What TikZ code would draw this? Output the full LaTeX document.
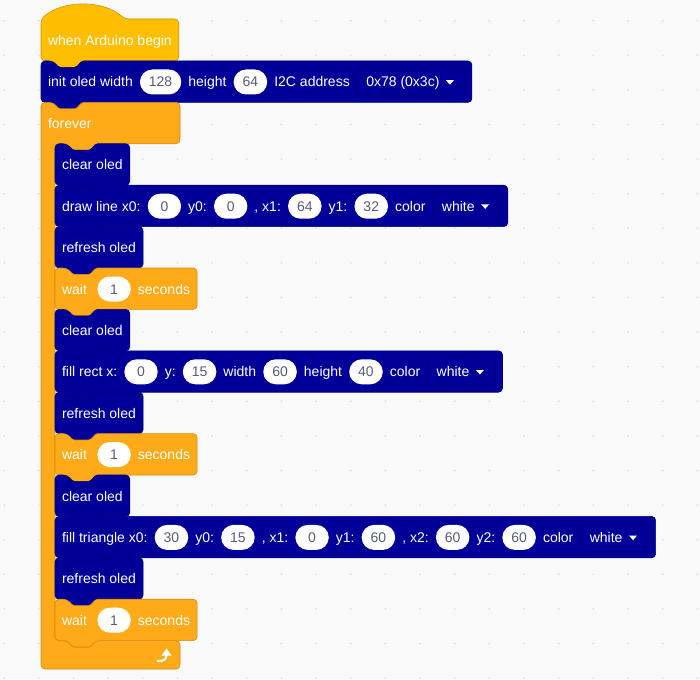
\documentclass[tikz,border=0pt]{standalone}
\usepackage{fontspec}
\setmainfont{Liberation Sans}
\usetikzlibrary{positioning,calc,backgrounds}

\definecolor{bgc}{HTML}{F9F9F9}
\definecolor{dotc}{HTML}{DADADA}
\definecolor{oledc}{HTML}{000099}
\definecolor{oledline}{HTML}{00007A}
\definecolor{ctrlc}{HTML}{FFAB19}
\definecolor{ctrlline}{HTML}{CF8B17}
\definecolor{hatc}{HTML}{FFBF00}
\definecolor{hatline}{HTML}{CC9900}
\definecolor{pilltext}{HTML}{575E75}

% #1 left, #2 top, #3 right end coordinate, #4 style
\newcommand{\StackBlock}[4]{%
  \draw[#4,rounded corners=4pt] (#1,#2) -- (#1+12,#2) [rounded corners=1.5pt] -- ++(6,6.4) -- ++(17,0) -- ++(6,-6.4)
    [rounded corners=4pt] -- (#3 |- 0,#2) -- (#3 |- 0,#2+41.4) -- (#1+41,#2+41.4)
    [rounded corners=1.5pt] -- ++(-6,6.4) -- ++(-17,0) -- ++(-6,-6.4) [rounded corners=4pt] -- (#1,#2+41.4) -- cycle;}

\begin{document}
\begin{tikzpicture}[x=1pt,y=-1pt,
    font=\fontsize{14}{16}\selectfont,
    node distance=7.1pt,
    lbl/.style={text=white,inner sep=0pt,outer sep=0pt,text height=10pt,text depth=0pt},
    pill/.style={fill=white,text=pilltext,rounded corners=12.5pt,minimum height=25pt,minimum width=33.4pt,
      inner xsep=9pt,inner ysep=0pt,outer sep=0pt,text height=10pt,text depth=0pt},
    menu/.style={draw=oledline,line width=0.8pt,rounded corners=4pt,text=white,inner sep=0pt,outer sep=0pt,
      minimum height=28pt,text height=10pt,text depth=0pt,
      execute at begin node=\hspace{9.4pt},execute at end node=\hspace{26pt}},
    oled/.style={fill=oledc,draw=oledline,line width=0.6pt},
    ctrl/.style={fill=ctrlc,draw=ctrlline,line width=0.6pt},
    hat/.style={fill=hatc,draw=hatline,line width=0.6pt}]

  \useasboundingbox (0,0) rectangle (700,679);

  % labels
  \node[lbl,anchor=west] (hat_1) at (48,40.5) {when Arduino begin};
  \coordinate[right=7pt of hat_1] (hat_end);

  \node[lbl,anchor=west] (ini_1) at (48,82) {init oled width};
  \node[pill,right=of ini_1] (ini_2) {128};
  \node[lbl,right=of ini_2] (ini_3) {height};
  \node[pill,right=of ini_3] (ini_4) {64};
  \node[lbl,right=of ini_4] (ini_5) {I2C address};
  \node[menu,right=of ini_5] (ini_6) {0x78 (0x3c)};
  \coordinate[right=6.5pt of ini_6] (ini_end);

  \node[lbl,anchor=west] (fe_1) at (48,123.4) {forever};

  \node[lbl,anchor=west] (c1_1) at (62,164.8) {clear oled};
  \coordinate[right=of c1_1] (c1_end);

  \node[lbl,anchor=west] (dl_1) at (62,206.2) {draw line x0:};
  \node[pill,right=of dl_1] (dl_2) {0};
  \node[lbl,right=of dl_2] (dl_3) {y0:};
  \node[pill,right=of dl_3] (dl_4) {0};
  \node[lbl,right=of dl_4] (dl_5) {, x1:};
  \node[pill,right=of dl_5] (dl_6) {64};
  \node[lbl,right=of dl_6] (dl_7) {y1:};
  \node[pill,right=of dl_7] (dl_8) {32};
  \node[lbl,right=of dl_8] (dl_9) {color};
  \node[menu,right=of dl_9] (dl_10) {white};
  \coordinate[right=of dl_10] (dl_end);

  \node[lbl,anchor=west] (r1_1) at (62,247.6) {refresh oled};
  \coordinate[right=of r1_1] (r1_end);

  \node[lbl,anchor=west] (w1_1) at (62,289) {wait};
  \node[pill,right=10.5pt of w1_1] (w1_2) {1};
  \node[lbl,right=of w1_2] (w1_3) {seconds};
  \coordinate[right=of w1_3] (w1_end);

  \node[lbl,anchor=west] (c2_1) at (62,330.4) {clear oled};
  \coordinate[right=of c2_1] (c2_end);

  \node[lbl,anchor=west] (fr_1) at (62,371.8) {fill rect x:};
  \node[pill,right=of fr_1] (fr_2) {0};
  \node[lbl,right=of fr_2] (fr_3) {y:};
  \node[pill,right=of fr_3] (fr_4) {15};
  \node[lbl,right=of fr_4] (fr_5) {width};
  \node[pill,right=of fr_5] (fr_6) {60};
  \node[lbl,right=of fr_6] (fr_7) {height};
  \node[pill,right=of fr_7] (fr_8) {40};
  \node[lbl,right=of fr_8] (fr_9) {color};
  \node[menu,right=of fr_9] (fr_10) {white};
  \coordinate[right=of fr_10] (fr_end);

  \node[lbl,anchor=west] (r2_1) at (62,413.2) {refresh oled};
  \coordinate[right=of r2_1] (r2_end);

  \node[lbl,anchor=west] (w2_1) at (62,454.6) {wait};
  \node[pill,right=10.5pt of w2_1] (w2_2) {1};
  \node[lbl,right=of w2_2] (w2_3) {seconds};
  \coordinate[right=of w2_3] (w2_end);

  \node[lbl,anchor=west] (c3_1) at (62,496) {clear oled};
  \coordinate[right=of c3_1] (c3_end);

  \node[lbl,anchor=west] (ft_1) at (62,537.4) {fill triangle x0:};
  \node[pill,right=of ft_1] (ft_2) {30};
  \node[lbl,right=of ft_2] (ft_3) {y0:};
  \node[pill,right=of ft_3] (ft_4) {15};
  \node[lbl,right=of ft_4] (ft_5) {, x1:};
  \node[pill,right=of ft_5] (ft_6) {0};
  \node[lbl,right=of ft_6] (ft_7) {y1:};
  \node[pill,right=of ft_7] (ft_8) {60};
  \node[lbl,right=of ft_8] (ft_9) {, x2:};
  \node[pill,right=of ft_9] (ft_10) {60};
  \node[lbl,right=of ft_10] (ft_11) {y2:};
  \node[pill,right=of ft_11] (ft_12) {60};
  \node[lbl,right=of ft_12] (ft_13) {color};
  \node[menu,right=of ft_13] (ft_14) {white};
  \coordinate[right=of ft_14] (ft_end);

  \node[lbl,anchor=west] (r3_1) at (62,578.8) {refresh oled};
  \coordinate[right=of r3_1] (r3_end);

  \node[lbl,anchor=west] (w3_1) at (62,620.2) {wait};
  \node[pill,right=10.5pt of w3_1] (w3_2) {1};
  \node[lbl,right=of w3_2] (w3_3) {seconds};
  \coordinate[right=of w3_3] (w3_end);

  % dropdown arrows
  \foreach \m in {ini_6,dl_10,fr_10,ft_14}
    \fill[white] ($(\m.east)+(-19.5pt,1.8pt)$) -- ++(8,0) -- ++(-4,4.5) -- cycle;

  % loop arrow
  \draw[white,line width=2.2pt,line cap=round] (157.5,661) .. controls (163,661.5) and (166.5,659.5) .. (166.5,655);
  \fill[white] (166.5,648.5) -- (171.5,655.5) -- (161.5,655.5) -- cycle;

  \begin{scope}[on background layer]
    \fill[bgc] (0,0) rectangle (700,679);
    \foreach \i in {0,...,20}
      \foreach \j in {0,...,19}
        \fill[dotc] (4.3+34.65*\i,20.7+34.6*\j) circle (0.9);

    \draw[hat,rounded corners=4pt] (41,61) -- (41,19) .. controls (62.9,-0.25) and (103.1,-0.25) .. (125,19)
      -- (hat_end |- 0,19) -- (hat_end |- 0,61) -- (82,61) [rounded corners=1.5pt] -- ++(-6,6.4) -- ++(-17,0) -- ++(-6,-6.4)
      [rounded corners=4pt] -- cycle;
    \StackBlock{41}{61}{ini_end}{oled}
    \draw[ctrl,rounded corners=4pt] (41,102.4) -- (53,102.4) [rounded corners=1.5pt] -- ++(6,6.4) -- ++(17,0) -- ++(6,-6.4)
      [rounded corners=4pt] -- (180,102.4) -- (180,143.8) -- (96,143.8)
      [rounded corners=1.5pt] -- ++(-6,6.4) -- ++(-17,0) -- ++(-6,-6.4)
      [rounded corners=4pt] -- (55,143.8) -- (55,640.6) -- (67,640.6)
      [rounded corners=1.5pt] -- ++(6,6.4) -- ++(17,0) -- ++(6,-6.4)
      [rounded corners=4pt] -- (180,640.6) -- (180,669) -- (41,669) -- cycle;
    \StackBlock{55}{143.8}{c1_end}{oled}
    \StackBlock{55}{185.2}{dl_end}{oled}
    \StackBlock{55}{226.6}{r1_end}{oled}
    \StackBlock{55}{268}{w1_end}{ctrl}
    \StackBlock{55}{309.4}{c2_end}{oled}
    \StackBlock{55}{350.8}{fr_end}{oled}
    \StackBlock{55}{392.2}{r2_end}{oled}
    \StackBlock{55}{433.6}{w2_end}{ctrl}
    \StackBlock{55}{475}{c3_end}{oled}
    \StackBlock{55}{516.4}{ft_end}{oled}
    \StackBlock{55}{557.8}{r3_end}{oled}
    \StackBlock{55}{599.2}{w3_end}{ctrl}
  \end{scope}
\end{tikzpicture}
\end{document}
